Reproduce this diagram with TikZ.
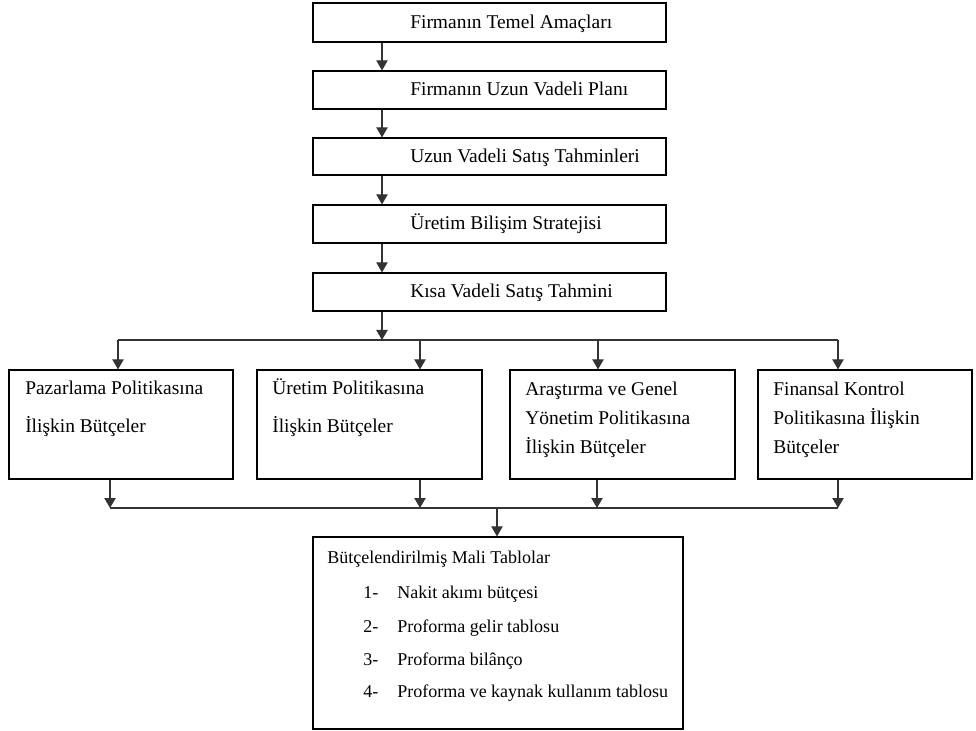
\documentclass[tikz,border=0pt]{standalone}
\usepackage{fontspec}
\setmainfont{Liberation Serif}
\usetikzlibrary{arrows.meta,fit}
\begin{document}
\begin{tikzpicture}[x=0.75pt,y=-0.75pt,
  box/.style={draw=black,line width=0.9pt,inner sep=0pt},
  txt/.style={anchor=base west,inner sep=0pt,font=\fontsize{14.6}{17}\selectfont},
  stxt/.style={anchor=base west,inner sep=0pt,font=\fontsize{13.5}{16}\selectfont},
  conn/.style={draw=black!80,line width=0.8pt},
  arr/.style={conn,-{Triangle[width=8.5pt,length=7.5pt]}}]
\useasboundingbox (0,0) rectangle (976,731);
% top chain
\node[box,fit={(313,3)(666,42)}] (b1) {};
\node[box,fit={(313,71)(666,109)}] (b2) {};
\node[box,fit={(313,138)(666,175)}] (b3) {};
\node[box,fit={(313,205)(666,243)}] (b4) {};
\node[box,fit={(313,273)(666,311)}] (b5) {};
\node[txt] (t1) at (410,28.5) {Firmanın Temel Amaçları};
\node[txt] (t2) at (410,96) {Firmanın Uzun Vadeli Planı};
\node[txt] (t3) at (410,162.5) {Uzun Vadeli Satış Tahminleri};
\node[txt] (t4) at (410,230) {Üretim Bilişim Stratejisi};
\node[txt] (t5) at (410,298) {Kısa Vadeli Satış Tahmini};
\coordinate (ax) at (382,0);
\draw[arr] (b1.south -| ax) -- (b2.north -| ax);
\draw[arr] (b2.south -| ax) -- (b3.north -| ax);
\draw[arr] (b3.south -| ax) -- (b4.north -| ax);
\draw[arr] (b4.south -| ax) -- (b5.north -| ax);
% distribution line
\coordinate (jt) at (382,340);
\coordinate (hl) at (118,340);
\coordinate (hr) at (838,340);
\draw[arr] (b5.south -| ax) -- (jt);
\draw[conn] (hl) -- (hr);
% middle boxes
\node[box,fit={(9,370)(233,479)}] (m1) {};
\node[box,fit={(257,370)(482,479)}] (m2) {};
\node[box,fit={(510,370)(735,479)}] (m3) {};
\node[box,fit={(758,370)(972,479)}] (m4) {};
\node[txt] (m1a) at (25,395) {Pazarlama Politikasına};
\node[txt] (m1b) at (25,432) {İlişkin Bütçeler};
\node[txt] (m2a) at (272,395) {Üretim Politikasına};
\node[txt] (m2b) at (272,432) {İlişkin Bütçeler};
\node[txt] (m3a) at (525,396) {Araştırma ve Genel};
\node[txt] (m3b) at (525,425) {Yönetim Politikasına};
\node[txt] (m3c) at (525,453) {İlişkin Bütçeler};
\node[txt] (m4a) at (773,396) {Finansal Kontrol};
\node[txt] (m4b) at (773,425) {Politikasına İlişkin};
\node[txt] (m4c) at (773,453) {Bütçeler};
\coordinate (d1) at (118,340);
\coordinate (d2) at (420,340);
\coordinate (d3) at (598,340);
\coordinate (d4) at (838,340);
\draw[arr] (d1) -- (m1.north -| d1);
\draw[arr] (d2) -- (m2.north -| d2);
\draw[arr] (d3) -- (m3.north -| d3);
\draw[arr] (d4) -- (m4.north -| d4);
% collection line
\coordinate (u1) at (110,508);
\coordinate (u2) at (420,508);
\coordinate (u3) at (597,508);
\coordinate (u4) at (838,508);
\draw[arr] (m1.south -| u1) -- (u1);
\draw[arr] (m2.south -| u2) -- (u2);
\draw[arr] (m3.south -| u3) -- (u3);
\draw[arr] (m4.south -| u4) -- (u4);
\draw[conn] (u1) -- (u4);
% final box
\node[box,fit={(313,537)(683,729)}] (f) {};
\coordinate (uc) at (497,508);
\draw[arr] (uc) -- (f.north -| uc);
\node[stxt] (f0) at (327,563) {Bütçelendirilmiş Mali Tablolar};
\node[stxt] (n1) at (363,598) {1-};
\node[stxt] (n2) at (363,632) {2-};
\node[stxt] (n3) at (363,665) {3-};
\node[stxt] (n4) at (363,697) {4-};
\node[stxt] (f1) at (397,598) {Nakit akımı bütçesi};
\node[stxt] (f2) at (397,632) {Proforma gelir tablosu};
\node[stxt] (f3) at (397,665) {Proforma bilânço};
\node[stxt] (f4) at (397,697) {Proforma ve kaynak kullanım tablosu};
\end{tikzpicture}
\end{document}
